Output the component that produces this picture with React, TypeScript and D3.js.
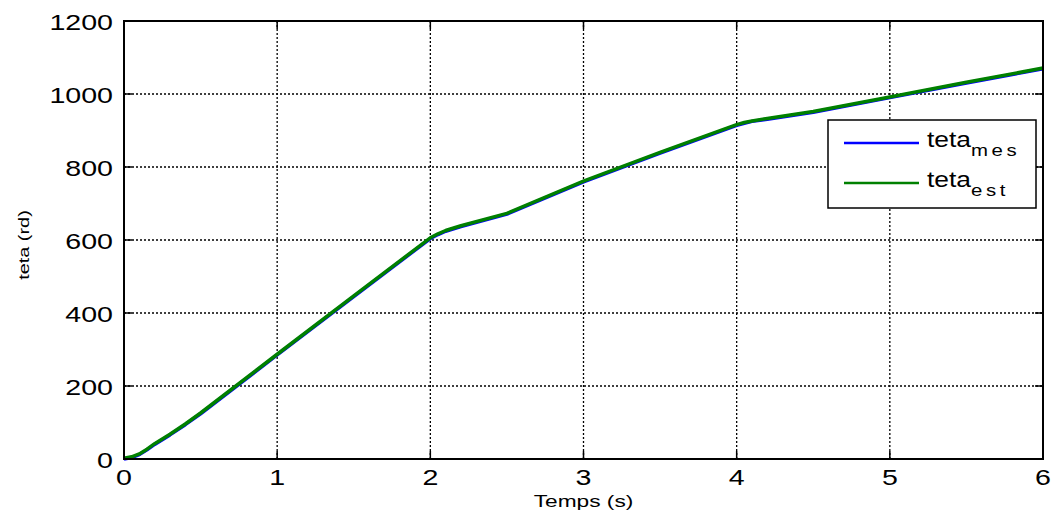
import { useEffect, useRef } from 'react';
import * as d3 from 'd3';

// time (s) and angle (rd)
const timeMes = [0, 0.05, 0.1, 0.15, 0.2, 0.3, 0.4, 0.5, 1, 1.5, 2, 2.05, 2.1, 2.2, 2.5, 3, 3.5, 4, 4.05, 4.1, 4.2, 4.5, 5, 5.5, 6];
const tetaMes = [0, 4, 12, 25, 40, 66, 94, 124, 285, 445, 604, 615, 624, 637, 671, 759, 838, 914, 920, 925, 931, 950, 990, 1030, 1069];
const timeEst = [0, 0.05, 0.1, 0.15, 0.2, 0.3, 0.4, 0.5, 1, 1.5, 2, 2.05, 2.1, 2.2, 2.5, 3, 3.5, 4, 4.05, 4.1, 4.2, 4.5, 5, 5.5, 6];
const tetaEst = [2, 6, 14, 27, 42, 68, 96, 126, 287, 447, 606, 617, 626, 639, 673, 761, 840, 916, 922, 926, 933, 952, 992, 1032, 1071];

const xTicks = [0, 1, 2, 3, 4, 5, 6];
const yTicks = [0, 200, 400, 600, 800, 1000, 1200];

const seriesNames = [
  { base: 'teta', sub: 'mes', color: '#0000ff' },
  { base: 'teta', sub: 'est', color: '#008000' },
];

export default function App() {
  const svgRef = useRef<SVGSVGElement>(null);
  const width = 1059;
  const height = 516;

  useEffect(() => {
    if (!svgRef.current) return;
    const svg = d3.select(svgRef.current);
    svg.selectAll('*').remove();

    const margin = { top: 21, right: 16, bottom: 57, left: 124 };
    const chartWidth = width - margin.left - margin.right;
    const chartHeight = height - margin.top - margin.bottom;
    const font = 'Liberation Sans, Arial, sans-serif';

    // the original figure's text is stretched wide, so scale it on x
    const wideText = (
      parent: d3.Selection<SVGGElement, unknown, null, undefined>,
      x: number,
      y: number,
      txt: string,
      size: number,
      anchor: string,
      sx = 1.3,
      rotate = 0
    ) =>
      parent
        .append('g')
        .attr('transform', `translate(${x}, ${y}) rotate(${rotate}) scale(${sx}, 1)`)
        .append('text')
        .style('text-anchor', anchor)
        .style('font-family', font)
        .style('font-size', `${size}px`)
        .text(txt);

    const g = svg.append('g').attr('transform', `translate(${margin.left}, ${margin.top})`);

    const xScale = d3.scaleLinear().domain([0, 6]).range([0, chartWidth]);
    const yScale = d3.scaleLinear().domain([0, 1200]).range([chartHeight, 0]);

    g.append('rect')
      .attr('width', chartWidth)
      .attr('height', chartHeight)
      .style('fill', '#fff');

    // grid
    g.selectAll('.vgrid')
      .data(xTicks.slice(1, -1))
      .enter()
      .append('line')
      .attr('x1', (d) => xScale(d))
      .attr('x2', (d) => xScale(d))
      .attr('y1', 0)
      .attr('y2', chartHeight)
      .style('stroke', '#000')
      .style('stroke-width', 1.3)
      .style('stroke-dasharray', '2,2');

    g.selectAll('.hgrid')
      .data(yTicks.slice(1, -1))
      .enter()
      .append('line')
      .attr('x1', 0)
      .attr('x2', chartWidth)
      .attr('y1', (d) => yScale(d))
      .attr('y2', (d) => yScale(d))
      .style('stroke', '#000')
      .style('stroke-width', 1.3)
      .style('stroke-dasharray', '2,2');

    // lines
    const line = d3
      .line<[number, number]>()
      .x((d) => xScale(d[0]))
      .y((d) => yScale(d[1]));

    const mes = timeMes.map((t, i) => [t, tetaMes[i]] as [number, number]);
    const est = timeEst.map((t, i) => [t, tetaEst[i]] as [number, number]);

    g.append('path')
      .attr('d', line(mes))
      .style('fill', 'none')
      .style('stroke', seriesNames[0].color)
      .style('stroke-width', 3.5)
      .style('stroke-linejoin', 'round');

    g.append('path')
      .attr('d', line(est))
      .style('fill', 'none')
      .style('stroke', seriesNames[1].color)
      .style('stroke-width', 3.5)
      .style('stroke-linejoin', 'round');

    // box
    g.append('rect')
      .attr('width', chartWidth)
      .attr('height', chartHeight)
      .style('fill', 'none')
      .style('stroke', '#000')
      .style('stroke-width', 2);

    // ticks (inward) on all sides
    xTicks.forEach((t) => {
      g.append('line')
        .attr('x1', xScale(t)).attr('x2', xScale(t))
        .attr('y1', chartHeight).attr('y2', chartHeight - 8)
        .style('stroke', '#000').style('stroke-width', 1.5);
      g.append('line')
        .attr('x1', xScale(t)).attr('x2', xScale(t))
        .attr('y1', 0).attr('y2', 8)
        .style('stroke', '#000').style('stroke-width', 1.5);
      wideText(g, xScale(t), chartHeight + 26, String(t), 22, 'middle');
    });

    yTicks.forEach((t) => {
      g.append('line')
        .attr('x1', 0).attr('x2', 8)
        .attr('y1', yScale(t)).attr('y2', yScale(t))
        .style('stroke', '#000').style('stroke-width', 1.5);
      g.append('line')
        .attr('x1', chartWidth).attr('x2', chartWidth - 8)
        .attr('y1', yScale(t)).attr('y2', yScale(t))
        .style('stroke', '#000').style('stroke-width', 1.5);
      wideText(g, -11, yScale(t) + 9, String(t), 22, 'end');
    });

    // axis labels
    wideText(g, chartWidth / 2, chartHeight + 48, 'Temps (s)', 16, 'middle', 1.42);
    wideText(g, -95, chartHeight / 2 + 5, 'teta (rd)', 14, 'middle', 1.42, -90);

    // legend
    const legend = svg.append('g').attr('transform', 'translate(828, 120)');
    legend
      .append('rect')
      .attr('width', 208)
      .attr('height', 88)
      .style('fill', '#fff')
      .style('stroke', '#000')
      .style('stroke-width', 1.5);

    seriesNames.forEach((s, i) => {
      const yy = 23 + i * 40;
      legend
        .append('line')
        .attr('x1', 16)
        .attr('x2', 91)
        .attr('y1', yy)
        .attr('y2', yy)
        .style('stroke', s.color)
        .style('stroke-width', 2.5);
      const lab = legend
        .append('g')
        .attr('transform', `translate(99, ${yy + 4}) scale(1.2, 1)`)
        .append('text')
        .style('font-family', font)
        .style('font-size', '22px');
      lab.append('tspan').text(s.base);
      lab
        .append('tspan')
        .attr('dy', 9)
        .style('font-size', '17px')
        .style('letter-spacing', '3px')
        .text(s.sub);
    });
  }, []);

  return (
    <svg ref={svgRef} width={width} height={height} style={{ display: 'block', position: 'absolute', left: 0, top: 0 }} />
  );
}
